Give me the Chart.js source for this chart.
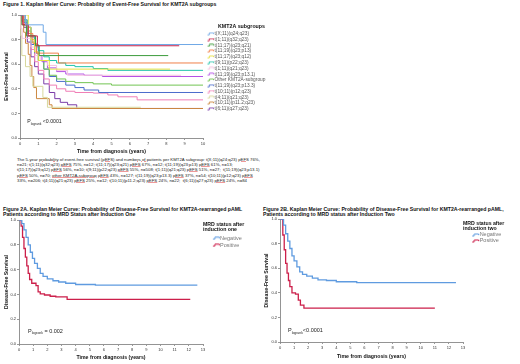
<!DOCTYPE html>
<html>
<head>
<meta charset="utf-8">
<script src="https://cdn.jsdelivr.net/npm/chart.js@4.4.1/dist/chart.umd.min.js"></script>
<style>
body { margin:0; background:#fff; width:520px; height:364px; position:relative; overflow:hidden; font-family:"Liberation Sans", Arial, sans-serif; }
.ttl { position:absolute; font-weight:bold; font-size:5.2px; line-height:5.2px; color:#111; white-space:nowrap; }
canvas { position:absolute; }
#note { position:absolute; left:17px; top:156.5px; font-size:4.3px; line-height:5.4px; color:#222; white-space:nowrap; }
#note u { text-decoration: underline solid rgba(225, 70, 70, 0.55); text-decoration-thickness:0.5px; text-underline-offset:0.4px; }
</style>
</head>
<body>
<div class="ttl" style="left:3px;top:2.4px">Figure 1. Kaplan Meier Curve: Probability of Event-Free Survival for KMT2A subgroups</div>
<canvas id="fig1" width="280" height="147" style="left:0;top:8px"></canvas>
<div id="note">The 5-year <u>probability</u> of event-free survival <u>(pEFS) and numbers of patients</u> per KMT2A <u>subgroup</u>: t(X;11)(q24;q23) <u>pEFS</u> 76%,<br>
n=21; t(1;11)(q32;q23) <u>pEFS</u> 75%, n=12; t(11;17)(q23;q21) <u>pEFS</u> 67%, n=12; t(11;19)(q23;p13) <u>pEFS</u> 61%, n=13;<br>
t(11;17)(q23;q12) <u>pEFS</u> 56%, n=10; t(9;11)(p22;q23) <u>pEFS</u> 55%, n=508; t(1;11)(q21;q23) <u>pEFS</u> 51%, n=27;&nbsp; t(11;19)(q23;p13.1)<br>
<u>pEFS</u> 50%, n=70; <u>other KMT2A-subgroup</u> <u>pEFS</u> 43%, n=127; t(11;19)(q23;p13.3) <u>pEFS</u> 37%, n=54; t(10;11)(p12;q23) <u>pEFS</u><br>
33%, n=206; t(4;11)(q21;q23) <u>pEFS</u> 25%, n=12; t(10;11)(p11.2;q23) <u>pEFS</u> 24%, n=22;&nbsp; t(6;11)(q27;q23) <u>pEFS</u> 24%, n=84</div>
<div class="ttl" style="left:3px;top:206.5px">Figure 2A. Kaplan Meier Curve: Probability of Disease-Free Survival for KMT2A-rearranged pAML<br>Patients according to MRD Status after Induction One</div>
<canvas id="fig2a" width="260" height="149" style="left:0;top:212px"></canvas>
<div class="ttl" style="left:263px;top:206.5px">Figure 2B. Kaplan Meier Curve: Probability of Disease-Free Survival for KMT2A-rearranged pAML,<br>Patients according to MRD status after Induction Two</div>
<canvas id="fig2b" width="260" height="148" style="left:260px;top:212px"></canvas>
<script>
const FAM = '"Liberation Sans", Arial, sans-serif';
Chart.defaults.font.family = FAM;

// Figure 1 - event-free survival per KMT2A subgroup (time in years, survival)
const fig1Labels = ['t(X;11)(q24;q23)', 't(1;11)(q32;q23)', 't(11;17)(q23;q21)', 't(11;19)(q23;p13)',
  't(11;17)(q23;q12)', 't(9;11)(p22;q23)', 't(1;11)(q21;q23)', 't(11;19)(q23;p13.1)', 'Other KMT2A-subgroup',
  't(11;19)(q23;p13.3)', 't(10;11)(p12;q23)', 't(4;11)(q21;q23)', 't(10;11)(p11.2;q23)', 't(6;11)(q27;q23)'];
const fig1Colors = ['#6fa8e6', '#c8204a', '#3c9c3c', '#f0804a', '#e6e040', '#22c4aa', '#f6c2df',
  '#b452e6', '#72c452', '#4b6ccc', '#f07eb6', '#d8d89c', '#cc8840', '#7a3ca8'];

const tX11 = [0, 0.3, 1.27, 1.42, 10];
const sX11 = [1, 0.92, 0.86, 0.76, 0.76];
const t1_11 = [0, 0.15, 0.45, 0.95, 8.7];
const s1_11 = [1, 0.92, 0.83, 0.75, 0.75];
const t11_17a = [0, 0.1, 0.35, 0.85, 1.05, 8.1];
const s11_17a = [1, 0.92, 0.83, 0.75, 0.67, 0.67];
const t11_19a = [0, 0.2, 0.45, 0.7, 0.9, 2.1, 10];
const s11_19a = [1, 0.92, 0.85, 0.77, 0.69, 0.61, 0.61];
const t11_17b = [0, 0.45, 0.6, 0.8, 1.0, 1.6, 8.2];
const s11_17b = [1, 0.9, 0.8, 0.7, 0.63, 0.56, 0.56];
const t9_11 = [0, 0.2, 0.4, 0.6, 0.8, 1.0, 1.3, 1.6, 2.0, 2.5, 3.0, 4.0, 4.8, 10];
const s9_11 = [1, 0.96, 0.9, 0.83, 0.76, 0.71, 0.66, 0.63, 0.61, 0.59, 0.58, 0.565, 0.55, 0.55];
const t1_11b = [0, 0.05, 0.12, 0.6, 0.85, 1.1, 1.5, 2.0, 2.6, 8.8];
const s1_11b = [1, 0.89, 0.81, 0.74, 0.67, 0.63, 0.59, 0.55, 0.51, 0.51];
const t11_19b = [0, 0.2, 0.4, 0.6, 0.8, 1.0, 1.2, 1.5, 2.0, 2.5, 3.5, 4.5, 10];
const s11_19b = [1, 0.96, 0.9, 0.82, 0.74, 0.67, 0.62, 0.57, 0.54, 0.52, 0.51, 0.5, 0.5];
const tOther = [0, 0.2, 0.4, 0.6, 0.8, 1.0, 1.3, 1.6, 2.0, 2.5, 3.0, 4.0, 5.0, 10];
const sOther = [1, 0.95, 0.87, 0.78, 0.7, 0.63, 0.56, 0.51, 0.48, 0.46, 0.45, 0.44, 0.43, 0.43];
const t11_19c = [0, 0.2, 0.4, 0.6, 0.8, 1.0, 1.3, 1.6, 2.0, 2.5, 3.0, 3.5, 4.3, 10];
const s11_19c = [1, 0.94, 0.85, 0.76, 0.69, 0.63, 0.56, 0.5, 0.46, 0.43, 0.41, 0.39, 0.37, 0.37];
const t10_11a = [0, 0.2, 0.4, 0.6, 0.8, 1.0, 1.3, 1.6, 2.0, 2.5, 3.0, 4.0, 4.8, 5.35, 6.4, 10];
const s10_11a = [1, 0.93, 0.83, 0.72, 0.62, 0.55, 0.48, 0.43, 0.4, 0.38, 0.37, 0.365, 0.35, 0.335, 0.31, 0.31];
const t4_11 = [0, 0.05, 0.1, 0.3, 0.55, 0.7, 1.25, 1.5, 6.6];
const s4_11 = [1, 0.83, 0.67, 0.58, 0.5, 0.42, 0.33, 0.25, 0.25];
const t10_11b = [0, 0.1, 0.2, 0.3, 0.45, 0.55, 0.65, 0.75, 0.9, 1.6, 1.75, 10];
const s10_11b = [1, 0.95, 0.86, 0.77, 0.68, 0.59, 0.5, 0.41, 0.32, 0.27, 0.24, 0.24];
const t6_11 = [0, 0.2, 0.4, 0.6, 0.8, 1.0, 1.3, 1.6, 1.9, 2.2, 2.6, 3.1, 10];
const s6_11 = [1, 0.9, 0.78, 0.66, 0.58, 0.52, 0.44, 0.37, 0.32, 0.29, 0.27, 0.24, 0.24];

const fig1Times = [tX11, t1_11, t11_17a, t11_19a, t11_17b, t9_11, t1_11b, t11_19b, tOther, t11_19c, t10_11a, t4_11, t10_11b, t6_11];
const fig1Surv = [sX11, s1_11, s11_17a, s11_19a, s11_17b, s9_11, s1_11b, s11_19b, sOther, s11_19c, s10_11a, s4_11, s10_11b, s6_11];

// Figure 2A / 2B - disease-free survival by MRD status
const mrdLabels = ['Negative', 'Positive'];
const mrdColors = ['#5f9be0', '#cc1f4a'];
const tNegA = [0, 0.2, 0.35, 0.5, 0.65, 0.8, 0.95, 1.1, 1.3, 1.5, 1.7, 2.0, 2.4, 2.8, 3.3, 4.0, 5.4, 12.6];
const sNegA = [1, 0.97, 0.92, 0.86, 0.8, 0.74, 0.69, 0.65, 0.61, 0.57, 0.545, 0.525, 0.51, 0.5, 0.49, 0.48, 0.475, 0.475];
const tPosA = [0, 0.15, 0.25, 0.35, 0.45, 0.55, 0.65, 0.75, 0.9, 1.2, 1.35, 1.5, 1.8, 2.2, 2.6, 3.4, 12.1];
const sPosA = [1, 0.95, 0.86, 0.77, 0.7, 0.63, 0.57, 0.52, 0.49, 0.47, 0.42, 0.405, 0.395, 0.385, 0.38, 0.36, 0.36];
const tNegB = [0, 0.25, 0.4, 0.55, 0.7, 0.85, 1.0, 1.2, 1.4, 1.6, 1.9, 2.3, 2.7, 3.3, 4.0, 5.45, 12.5];
const sNegB = [1, 0.95, 0.88, 0.82, 0.76, 0.7, 0.66, 0.61, 0.57, 0.55, 0.535, 0.52, 0.505, 0.5, 0.49, 0.483, 0.483];
const tPosB = [0, 0.2, 0.3, 0.4, 0.5, 0.6, 0.7, 0.85, 1.1, 1.3, 1.45, 1.7, 11];
const sPosB = [1, 0.87, 0.75, 0.64, 0.56, 0.5, 0.45, 0.4, 0.39, 0.34, 0.3, 0.275, 0.275];

const yTicks = [0, 0.2, 0.4, 0.6, 0.8, 1.0];

// little step glyph used as legend symbol
function stepIcon(color, ic) {
  const c = document.createElement('canvas');
  c.width = ic.w; c.height = ic.h;
  const g = c.getContext('2d');
  g.strokeStyle = color; g.lineWidth = ic.lw;
  const m = ic.x0 + (ic.x1 - ic.x0) * 0.3;
  g.beginPath();
  g.moveTo(ic.x0, ic.h - 1);
  g.lineTo(m, ic.h - 1);
  g.lineTo(m, 1);
  g.lineTo(ic.x1, 1);
  g.lineTo(ic.x1, ic.h * 0.55);
  g.stroke();
  return c;
}

const legendWidth = {
  id: 'legendWidth',
  beforeLayout(chart, args, opts) {
    const lg = chart.legend;
    if (!lg || lg._fixed) return;
    const fit = lg.fit;
    lg.fit = function () { fit.call(this); this.width = opts.w; };
    lg._fixed = true;
  }
};

const pvalue = {
  id: 'pvalue',
  afterDatasetsDraw(chart, args, o) {
    const {ctx, scales: {x, y}} = chart;
    let px = x.getPixelForValue(o.t);
    const py = y.getPixelForValue(o.s);
    ctx.save();
    ctx.fillStyle = '#222';
    ctx.textBaseline = 'alphabetic';
    ctx.font = o.size + 'px ' + FAM;
    ctx.fillText('P', px, py);
    px += ctx.measureText('P').width;
    ctx.font = (o.size * 0.62) + 'px ' + FAM;
    ctx.fillText('logrank', px, py + o.size * 0.3);
    px += ctx.measureText('logrank').width;
    ctx.font = o.size + 'px ' + FAM;
    ctx.fillText(o.text, px, py);
    ctx.restore();
  }
};

function kmChart(id, labels, colors, times, surv, cfg) {
  return new Chart(document.getElementById(id), {
    type: 'line',
    data: {
      datasets: labels.map((label, i) => ({
        label: label,
        data: times[i].map((t, j) => ({x: t, y: surv[i][j]})),
        borderColor: colors[i],
        backgroundColor: colors[i],
        borderWidth: cfg.lw,
        stepped: true,
        fill: false,
        pointRadius: 0,
        pointHoverRadius: 0,
        pointStyle: stepIcon(colors[i], cfg.icon)
      }))
    },
    options: {
      responsive: false,
      animation: false,
      events: [],
      layout: { padding: { top: cfg.top, left: 0, right: 0, bottom: 0 } },
      plugins: {
        legendWidth: { w: cfg.legendW },
        pvalue: cfg.p,
        tooltip: { enabled: false },
        legend: {
          position: 'right',
          align: 'start',
          labels: {
            usePointStyle: true,
            pointStyleWidth: cfg.boxW,
            padding: cfg.legPad,
            color: cfg.legColor,
            font: { size: cfg.legFont }
          },
          title: {
            display: true,
            text: cfg.legendTitle,
            position: cfg.titlePos,
            color: '#111',
            font: { size: cfg.titleFont, weight: 'bold', lineHeight: 1.1 },
            padding: cfg.titlePad
          }
        }
      },
      scales: {
        x: {
          type: 'linear',
          min: 0,
          max: cfg.xMax,
          ticks: { stepSize: 1, autoSkip: false, maxRotation: 0, font: { size: 4 }, color: '#333', padding: 1 },
          grid: { drawOnChartArea: false, tickLength: 2, color: '#999' },
          border: { color: '#888', width: 0.9 },
          title: { display: true, text: 'Time from diagnosis (years)', color: '#111', font: { size: 5.2, weight: 'bold' }, padding: 0 },
          afterFit: s => { s.height = cfg.xH; }
        },
        y: {
          type: 'linear',
          min: 0,
          max: 1,
          afterBuildTicks: s => { s.ticks = yTicks.map(v => ({value: v})); },
          ticks: { callback: v => v.toFixed(1), font: { size: 4 }, color: '#333', padding: 1 },
          grid: { drawOnChartArea: false, tickLength: 2, color: '#999' },
          border: { color: '#888', width: 0.9 },
          title: { display: true, text: cfg.yTitle, color: '#111', font: { size: 5.2, weight: 'bold' }, padding: { top: 3, bottom: 0 } },
          afterFit: s => { s.width = cfg.yW; }
        }
      }
    },
    plugins: [legendWidth, pvalue]
  });
}

kmChart('fig1', fig1Labels, fig1Colors, fig1Times, fig1Surv, {
  lw: 1, xMax: 10, xH: 17, yW: 20, top: 7, legendW: 77,
  yTitle: 'Event-Free Survival', legendTitle: 'KMT2A subgroups', titlePos: 'center',
  titleFont: 5.3, titlePad: { top: 8.5, bottom: 1.1 },
  legFont: 4.8, legPad: 0.97, boxW: 8.1, legColor: '#555',
  icon: { w: 12, h: 4, x0: 5.5, x1: 11.5, lw: 0.9 },
  p: { t: 0.4, s: 0.12, size: 5.2, text: ' <0.0001' }
});

kmChart('fig2a', mrdLabels, mrdColors, [tNegA, tPosA], [sNegA, sPosA], {
  lw: 1.3, xMax: 13, xH: 17, yW: 19, top: 8, legendW: 57,
  yTitle: 'Disease-Free Survival', legendTitle: ['MRD status after', 'induction one'], titlePos: 'start',
  titleFont: 5.2, titlePad: { top: 1.5, bottom: 6.75 },
  legFont: 5.5, legPad: 1.5, boxW: 12.75, legColor: '#777',
  icon: { w: 20, h: 4, x0: 12, x1: 18.5, lw: 1 },
  p: { t: 0.64, s: 0.09, size: 5.5, text: ' = 0.002' }
});

kmChart('fig2b', mrdLabels, mrdColors, [tNegB, tPosB], [sNegB, sPosB], {
  lw: 1.3, xMax: 13, xH: 18, yW: 20, top: 7, legendW: 57,
  yTitle: 'Disease-Free Survival', legendTitle: ['MRD status after', 'induction two'], titlePos: 'start',
  titleFont: 5.2, titlePad: { top: 1.5, bottom: 5.5 },
  legFont: 5.5, legPad: 0.5, boxW: 13.4, legColor: '#777',
  icon: { w: 20, h: 4, x0: 12, x1: 18.5, lw: 1 },
  p: { t: 0.57, s: 0.08, size: 5.5, text: '<0.0001' }
});
</script>
</body>
</html>
